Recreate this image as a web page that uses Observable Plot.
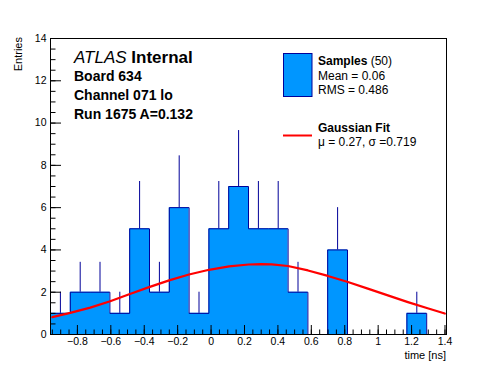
<!DOCTYPE html>
<html><head><meta charset="utf-8">
<script src="https://cdn.jsdelivr.net/npm/d3@7"></script>
<script src="https://cdn.jsdelivr.net/npm/@observablehq/plot@0.6"></script>
<style>body{margin:0;background:#fff;} #chart svg{display:block;}</style>
</head><body><div id="chart"></div>
<script>
// ---- data ----
const binEdges = [-0.961, -0.8425, -0.724, -0.6055, -0.487, -0.3685, -0.25, -0.1315, -0.013, 0.1055,
  0.224, 0.3425, 0.461, 0.5795, 0.698, 0.8165, 0.935, 1.0535, 1.172, 1.2905, 1.409];
const counts = [1, 2, 2, 1, 5, 2, 6, 1, 5, 7, 5, 5, 2, 0, 4, 0, 0, 0, 1, 0];
const fitX = [-0.95, -0.843, -0.723, -0.604, -0.49, -0.371, -0.251, -0.132, -0.012, 0.108, 0.225, 0.30,
  0.363, 0.46, 0.58, 0.699, 0.819, 0.938, 1.058, 1.178, 1.291, 1.399];
const fitY = [0.82, 1.02, 1.27, 1.57, 1.90, 2.24, 2.56, 2.84, 3.06, 3.22, 3.31, 3.33,
  3.32, 3.24, 3.03, 2.77, 2.48, 2.17, 1.85, 1.53, 1.25, 0.99];
const xMajorTicks = [-0.8, -0.6, -0.4, -0.2, 0, 0.2, 0.4, 0.6, 0.8, 1, 1.2, 1.4];
const xMinorTicks = d3.range(-19, 29).map(i => i * 0.05);
const yMajorTicks = [0, 2, 4, 6, 8, 10, 12, 14];
const yMinorTicks = d3.range(0, 29).map(i => i * 0.5);
const xLabel = "time [ns]";
const yLabel = "Entries";
const titleLines = ["Board 634", "Channel 071 lo", "Run 1675 A=0.132"];
const legendSamples = {name: "Samples", n: "(50)", lines: ["Mean = 0.06", "RMS = 0.486"]};
const legendFit = {name: "Gaussian Fit", line: "\u03bc = 0.27, \u03c3 =0.719"};

// ---- layout ----
const W = 496, H = 372, mL = 50, mR = 50, mT = 38, mB = 38;
const fw = W - mL - mR, fh = H - mT - mB;
const FILL = "#0096ff", EDGE = "#000099";
const font = "'Liberation Sans', Arial, Helvetica, sans-serif";

const outline = binEdges.map((e, i) => ({x: e, y: counts[Math.min(i, counts.length - 1)]}));
const bins = counts.map((n, i) => ({c: (binEdges[i] + binEdges[i + 1]) / 2, n})).filter(d => d.n > 0);
const fit = fitX.map((x, i) => ({x, y: fitY[i]}));
const fmt = d3.format("");

const chart = Plot.plot({
  width: W, height: H,
  marginLeft: mL, marginRight: mR, marginTop: mT, marginBottom: mB,
  x: {domain: [binEdges[0], binEdges[binEdges.length - 1]], axis: null},
  y: {domain: [0, 14], axis: null},
  style: {fontFamily: font, fontSize: "10.5px", background: "white", color: "black"},
  marks: [
    Plot.areaY(outline, {x: "x", y: "y", curve: "step-after", fill: FILL}),
    Plot.ruleX(bins, {x: "c", y1: "n", y2: d => d.n + Math.sqrt(d.n), stroke: EDGE, strokeWidth: 1}),
    Plot.line(outline, {x: "x", y: "y", curve: "step-after", stroke: EDGE, strokeWidth: 1}),
    Plot.line(fit, {x: "x", y: "y", stroke: "#ff0000", strokeWidth: 2.2}),
    Plot.tickX(xMinorTicks, {x: d => d, insetTop: fh - 4.5, stroke: "black"}),
    Plot.tickX(xMajorTicks, {x: d => d, insetTop: fh - 9, stroke: "black"}),
    Plot.tickY(yMinorTicks, {y: d => d, insetRight: fw - 5.5, stroke: "black"}),
    Plot.tickY(yMajorTicks, {y: d => d, insetRight: fw - 11, stroke: "black"}),
    Plot.text(xMajorTicks, {x: d => d, text: d => fmt(d), frameAnchor: "bottom", lineAnchor: "top", dy: 3, fill: "black"}),
    Plot.text(yMajorTicks, {y: d => d, text: d => fmt(d), frameAnchor: "left", textAnchor: "end", dx: -4, fill: "black"}),
    Plot.frame({stroke: "black"})
  ]
});
document.getElementById("chart").appendChild(chart);

// ---- annotations (text and legend) ----
const svg = d3.select(chart);
const g = svg.append("g").attr("font-family", font).attr("fill", "black").attr("text-anchor", "start");

g.append("text").attr("x", 446).attr("y", 359).attr("text-anchor", "end")
  .attr("font-size", 11).text(xLabel);
g.append("text").attr("transform", "translate(22,37) rotate(-90)").attr("text-anchor", "end")
  .attr("font-size", 11).text(yLabel);

const t1 = g.append("text").attr("x", 74).attr("y", 63).attr("font-size", 17);
t1.append("tspan").attr("font-style", "italic").text("ATLAS");
t1.append("tspan").attr("font-weight", "bold").text(" Internal");
titleLines.forEach((s, i) => g.append("text").attr("x", 74).attr("y", 81 + 19 * i)
  .attr("font-size", 14).attr("font-weight", "bold").text(s));

// legend
g.append("rect").attr("x", 283.5).attr("y", 53.5).attr("width", 28.5).attr("height", 43)
  .attr("fill", FILL).attr("stroke", EDGE);
const ls = g.append("text").attr("x", 318).attr("y", 65).attr("font-size", 12);
ls.append("tspan").attr("font-weight", "bold").text(legendSamples.name);
ls.append("tspan").text(" " + legendSamples.n);
legendSamples.lines.forEach((s, i) => g.append("text").attr("x", 318).attr("y", 79.5 + 14 * i)
  .attr("font-size", 12).text(s));
g.append("line").attr("x1", 283).attr("x2", 312).attr("y1", 135.5).attr("y2", 135.5)
  .attr("stroke", "#ff0000").attr("stroke-width", 2);
g.append("text").attr("x", 318).attr("y", 132).attr("font-size", 12).attr("font-weight", "bold").text(legendFit.name);
g.append("text").attr("x", 318).attr("y", 146).attr("font-size", 12).text(legendFit.line);
</script>
</body></html>
